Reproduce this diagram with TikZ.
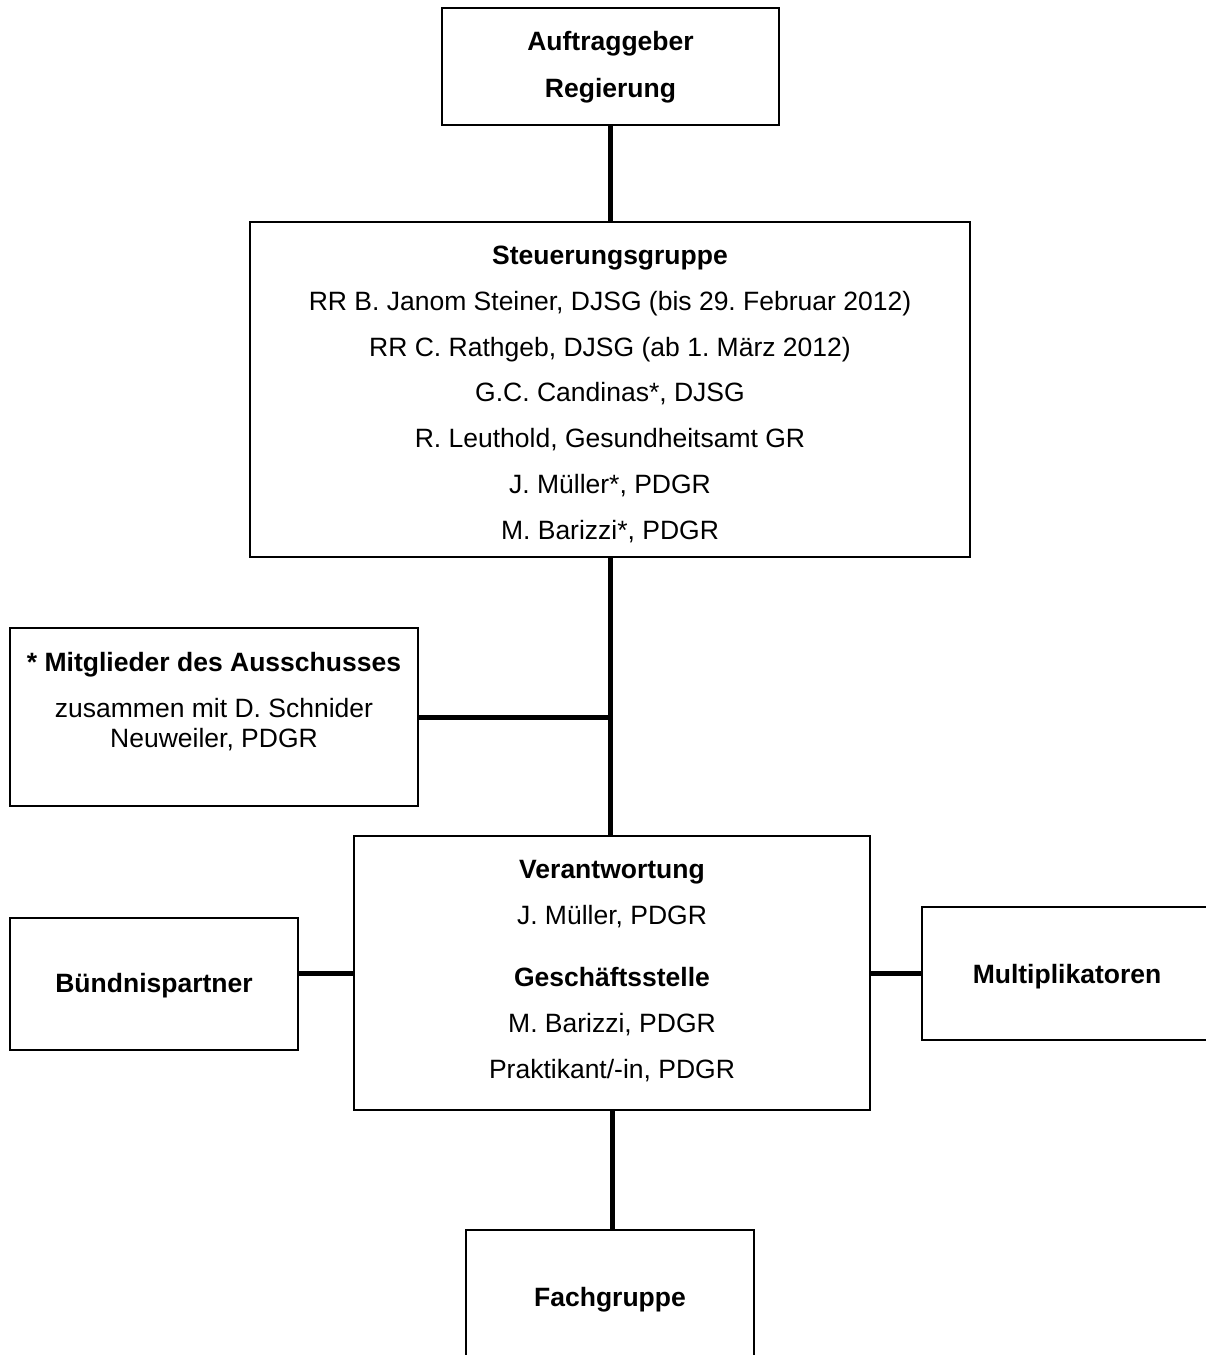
\documentclass[tikz,border=0pt]{standalone}
\usepackage{fontspec}
\setmainfont{Liberation Sans}
\frenchspacing
\begin{document}
\begin{tikzpicture}[x=1pt,y=-1pt,
  box/.style={draw=black, line width=2pt, fill=none, inner sep=0pt, minimum width=#1},
  conn/.style={draw=black, line width=5pt},
  txt/.style={anchor=base, inner sep=0pt, font=\fontsize{26.5}{30}\selectfont\frenchspacing},
  btxt/.style={txt, font=\fontsize{26.5}{30}\selectfont\bfseries\frenchspacing}]
\clip (0,0) rectangle (1206,1355);
\fill[white] (0,0) rectangle (1206,1355);
% boxes
\node[box=337pt, minimum height=117pt] (auf) at (610.5,66.5) {};
\node[box=720pt, minimum height=335pt] (steu) at (610,389.5) {};
\node[box=408pt, minimum height=178pt] (mit) at (214,717) {};
\node[box=516pt, minimum height=274pt] (ver) at (612,973) {};
\node[box=288pt, minimum height=132pt] (bue) at (154,984) {};
\node[box=290pt, minimum height=133pt] (mul) at (1067,973.5) {};
\node[box=288pt, minimum height=135pt] (fach) at (610,1297.5) {};
% texts
\node[btxt] (auf1) at (610.5,50.5) {Auftraggeber};
\node[btxt] (auf2) at (610.5,97) {Regierung};
\node[btxt] (s1) at (610,264.5) {Steuerungsgruppe};
\node[txt] (s2) at (610,310.3) {RR B. Janom Steiner, DJSG (bis 29. Februar 2012)};
\node[txt] (s3) at (610,356.1) {RR C. Rathgeb, DJSG (ab 1. März 2012)};
\node[txt] (s4) at (610,401.9) {G.C. Candinas*, DJSG};
\node[txt] (s5) at (610,447.7) {R. Leuthold, Gesundheitsamt GR};
\node[txt] (s6) at (610,493.5) {J. Müller*, PDGR};
\node[txt] (s7) at (610,539.3) {M. Barizzi*, PDGR};
\node[btxt] (m1) at (214,671) {* Mitglieder des Ausschusses};
\node[txt] (m2) at (214,717) {zusammen mit D. Schnider};
\node[txt] (m3) at (214,747) {Neuweiler, PDGR};
\node[btxt] (v1) at (612,878.5) {Verantwortung};
\node[txt] (v2) at (612,924.5) {J. Müller, PDGR};
\node[btxt] (v3) at (612,986.5) {Geschäftsstelle};
\node[txt] (v4) at (612,1032.5) {M. Barizzi, PDGR};
\node[txt] (v5) at (612,1078.5) {Praktikant/-in, PDGR};
\node[btxt] (b1) at (154,992.5) {Bündnispartner};
\node[btxt] (mu1) at (1067,983) {Multiplikatoren};
\node[btxt] (f1) at (610,1306.5) {Fachgruppe};
% connectors
\coordinate (j) at (mit.east -| steu.south);
\draw[conn] (auf.south) -- (auf.south |- steu.north);
\draw[conn] (steu.south) -- (steu.south |- ver.north);
\draw[conn] (mit.east) -- (j);
\draw[conn] (ver.west) -- (ver.west -| bue.east);
\draw[conn] (ver.east) -- (ver.east -| mul.west);
\draw[conn] (ver.south) -- (ver.south |- fach.north);
\end{tikzpicture}
\end{document}
